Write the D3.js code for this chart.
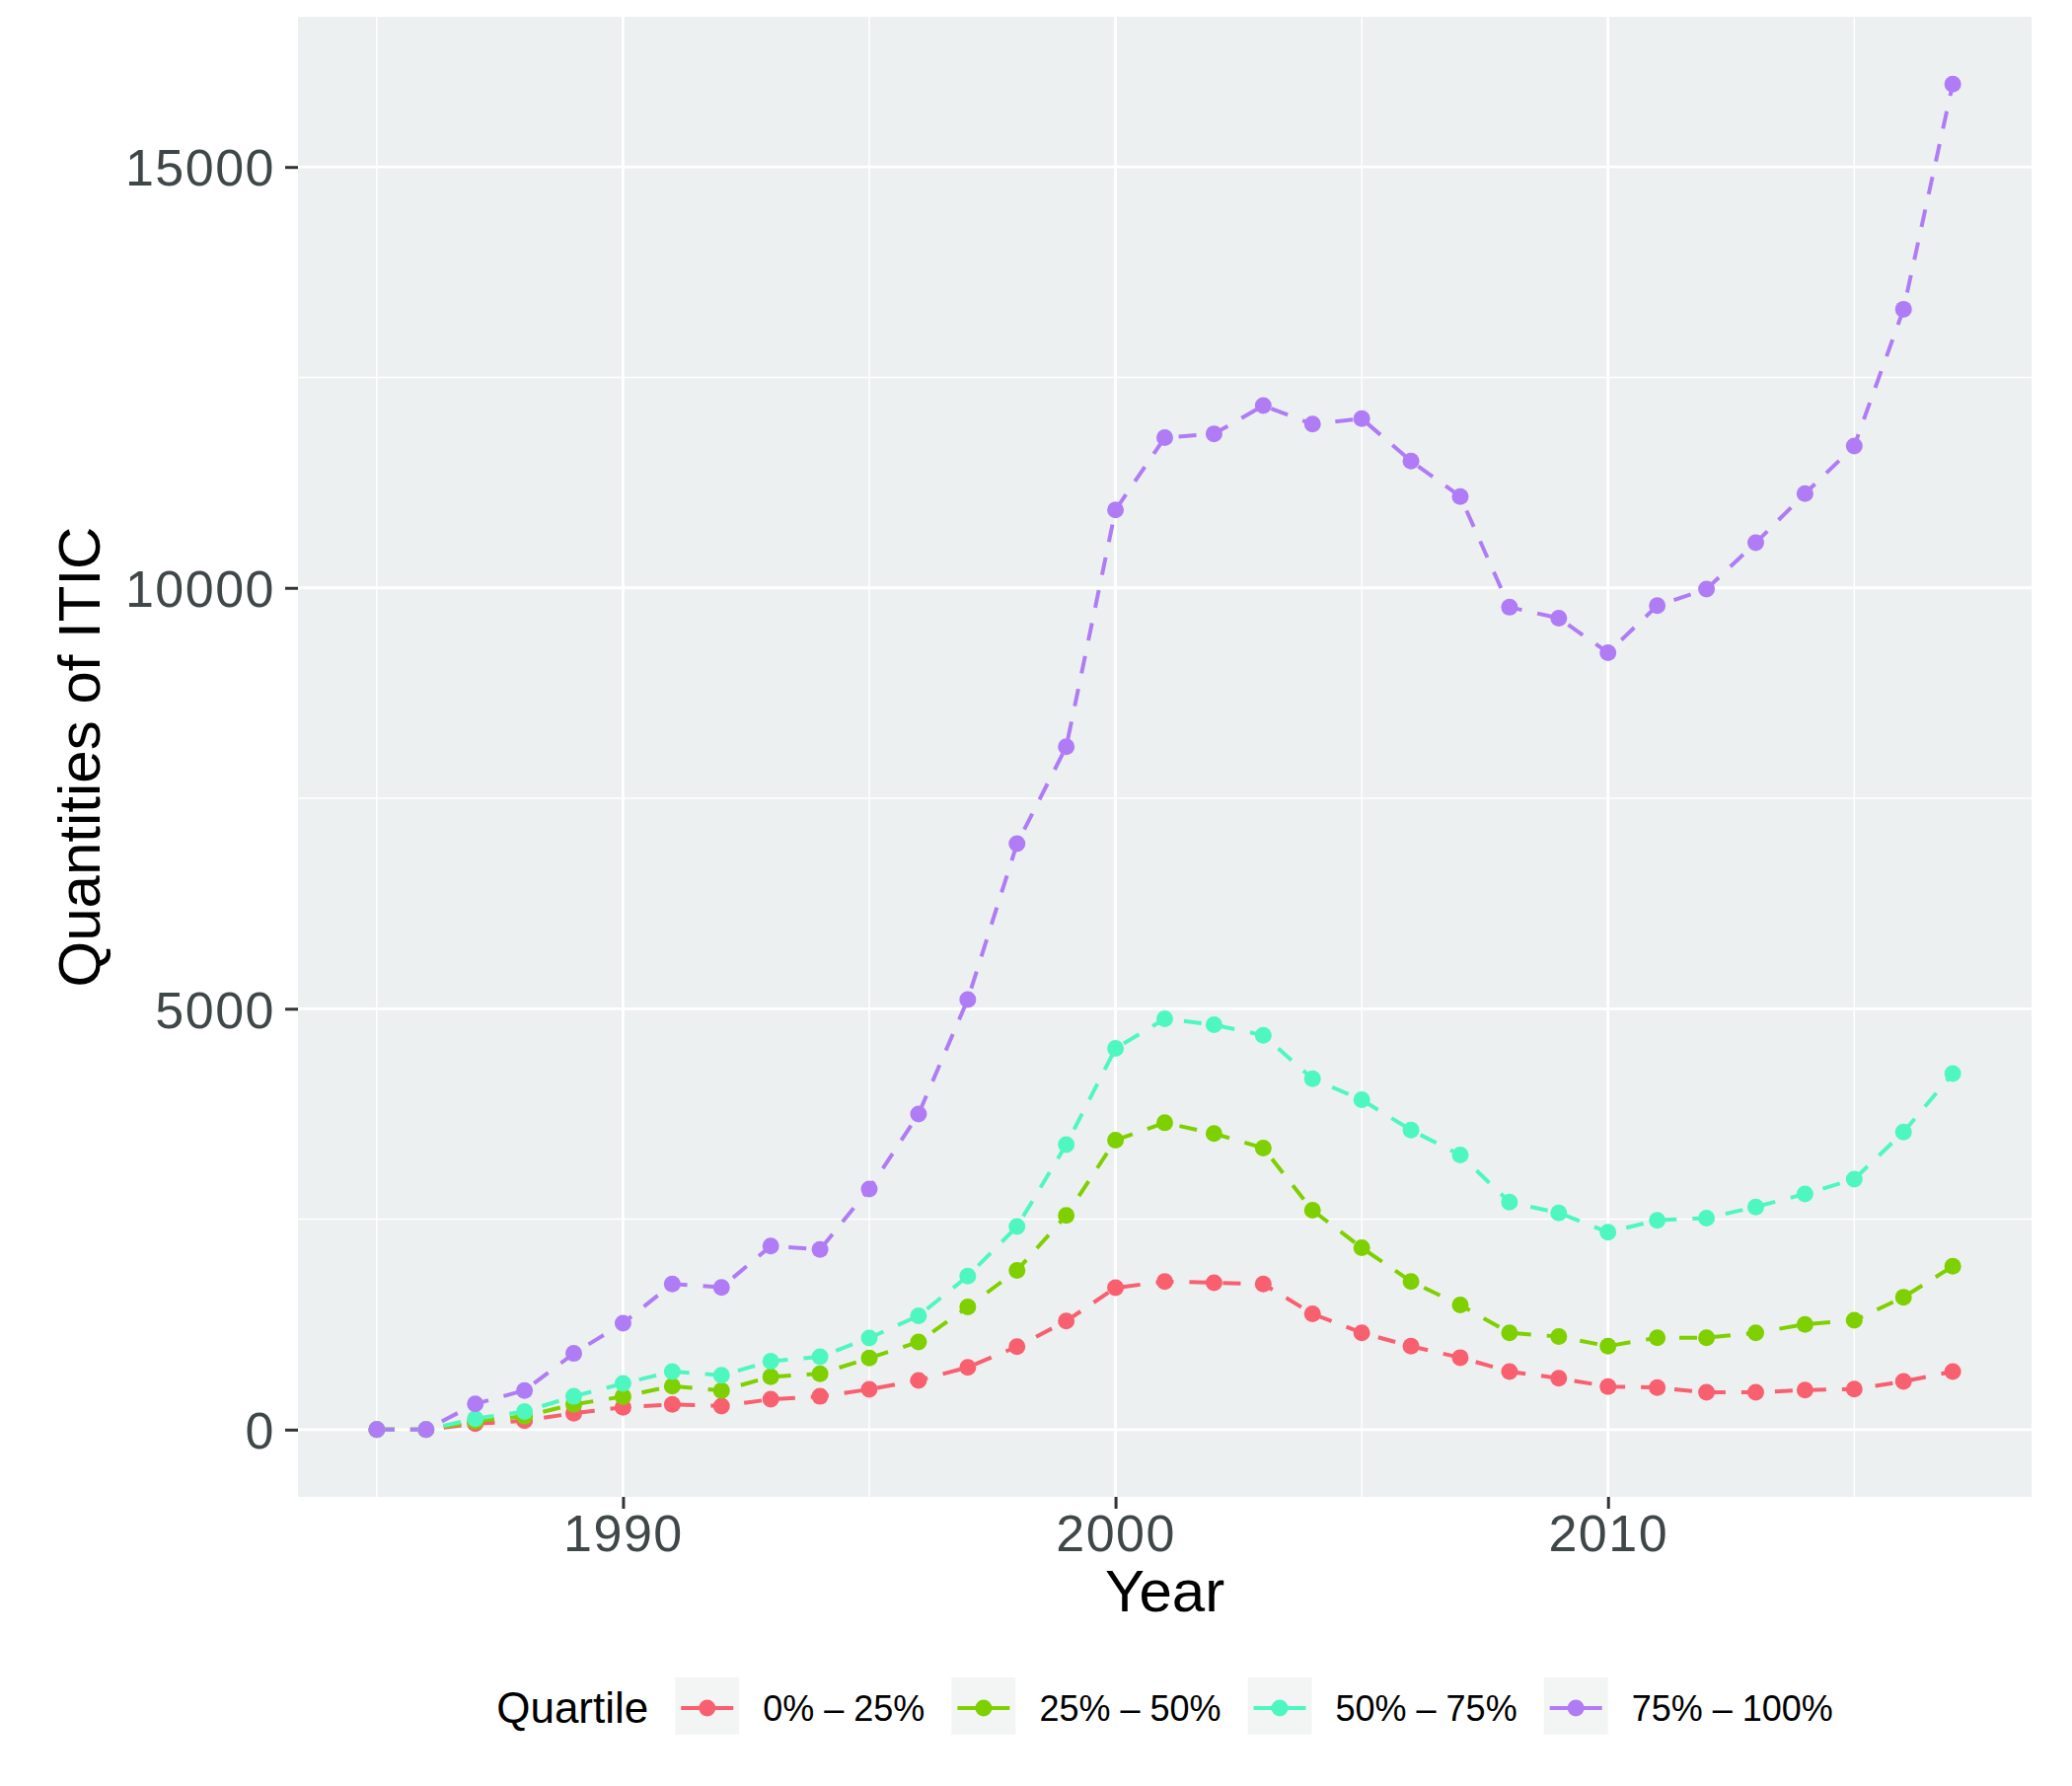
<!DOCTYPE html>
<html>
<head>
<meta charset="utf-8">
<script src="https://cdn.jsdelivr.net/npm/d3@7"></script>
<style>
  body { margin: 0; background: #fff; }
  text { font-family: "Liberation Sans", Arial, Helvetica, sans-serif; }
  .axis text { fill: #3f4749; font-size: 52px; letter-spacing: 1.5px; }
  .axis line { stroke: #333; stroke-width: 3; }
  .axis path { display: none; }
</style>
</head>
<body>
<script>
const years = [1985, 1986, 1987, 1988, 1989, 1990, 1991, 1992, 1993, 1994, 1995, 1996,
  1997, 1998, 1999, 2000, 2001, 2002, 2003, 2004, 2005, 2006, 2007, 2008, 2009, 2010,
  2011, 2012, 2013, 2014, 2015, 2016, 2017];

const q1 = [0, 0, 70, 105, 195, 265, 300, 280, 360, 395, 478, 585, 740, 985, 1290, 1685,
  1760, 1745, 1730, 1375, 1150, 990, 855, 690, 610, 512, 500, 442, 442, 470, 482, 572, 690];
const q2 = [0, 0, 100, 160, 300, 392, 517, 465, 627, 663, 850, 1042, 1457, 1892, 2545, 3438,
  3645, 3517, 3345, 2605, 2160, 1760, 1480, 1150, 1105, 992, 1092, 1092, 1150, 1250, 1298, 1573, 1940];
const q3 = [0, 0, 130, 215, 395, 548, 690, 645, 812, 866, 1088, 1352, 1823, 2412, 3385, 4528,
  4880, 4810, 4685, 4168, 3918, 3558, 3262, 2702, 2575, 2345, 2487, 2513, 2645, 2800, 2975, 3535, 4230];
const q4 = [0, 0, 305, 465, 905, 1265, 1730, 1690, 2180, 2140, 2858, 3748, 5110, 6960, 8112, 10925,
  11785, 11830, 12165, 11945, 12010, 11505, 11085, 9770, 9640, 9230, 9788, 9985, 10535, 11120, 11685, 13310, 15985];

const quartiles = ["0% \u2013 25%", "25% \u2013 50%", "50% \u2013 75%", "75% \u2013 100%"];
const colors = ["#f8606f", "#7fd000", "#4ff7c0", "#b07cf5"];

const yTicks = [0, 5000, 10000, 15000];
const yMinor = [2500, 7500, 12500];
const xTicks = [1990, 2000, 2010];
const xMinor = [1985, 1995, 2005, 2015];

const width = 2100, height = 1810;
const panel = {left: 302, right: 2059, top: 17, bottom: 1517};

const series = [q1, q2, q3, q4].map((vals, i) => ({
  name: quartiles[i],
  color: colors[i],
  values: vals.map((v, j) => ({x: years[j], y: v}))
}));

// ggplot style 5% expansion on both axes
const xExt = d3.extent(years);
const xPad = (xExt[1] - xExt[0]) * 0.05;
const yMax = d3.max([q1, q2, q3, q4], s => d3.max(s));
const yMin = d3.min([q1, q2, q3, q4], s => d3.min(s));
const yPad = (yMax - yMin) * 0.05;

const xScale = d3.scaleLinear()
  .domain([xExt[0] - xPad, xExt[1] + xPad])
  .range([panel.left, panel.right]);

const yScale = d3.scaleLinear()
  .domain([yMin - yPad, yMax + yPad])
  .range([panel.bottom, panel.top]);

const svg = d3.select("body")
  .append("svg")
  .attr("width", width)
  .attr("height", height);

svg.append("rect")
  .attr("x", panel.left)
  .attr("y", panel.top)
  .attr("width", panel.right - panel.left)
  .attr("height", panel.bottom - panel.top)
  .style("fill", "#edf0f0");

const grid = svg.append("g");

grid.selectAll(".yminor")
  .data(yMinor)
  .enter()
  .append("line")
  .attr("x1", panel.left).attr("x2", panel.right)
  .attr("y1", d => yScale(d)).attr("y2", d => yScale(d))
  .style("stroke", "#fff").style("stroke-width", 1.4);

grid.selectAll(".xminor")
  .data(xMinor)
  .enter()
  .append("line")
  .attr("y1", panel.top).attr("y2", panel.bottom)
  .attr("x1", d => xScale(d)).attr("x2", d => xScale(d))
  .style("stroke", "#fff").style("stroke-width", 1.4);

grid.selectAll(".ymajor")
  .data(yTicks)
  .enter()
  .append("line")
  .attr("x1", panel.left).attr("x2", panel.right)
  .attr("y1", d => yScale(d)).attr("y2", d => yScale(d))
  .style("stroke", "#fff").style("stroke-width", 2.8);

grid.selectAll(".xmajor")
  .data(xTicks)
  .enter()
  .append("line")
  .attr("y1", panel.top).attr("y2", panel.bottom)
  .attr("x1", d => xScale(d)).attr("x2", d => xScale(d))
  .style("stroke", "#fff").style("stroke-width", 2.8);

const yAxis = d3.axisLeft(yScale)
  .tickValues(yTicks)
  .tickFormat(d3.format("d"))
  .tickSize(13)
  .tickPadding(10);

const xAxis = d3.axisBottom(xScale)
  .tickValues(xTicks)
  .tickFormat(d3.format("d"))
  .tickSize(12)
  .tickPadding(8);

svg.append("g")
  .attr("class", "axis")
  .attr("transform", "translate(" + panel.left + ",0)")
  .call(yAxis)
  .selectAll("text")
  .attr("dy", "0.36em");

svg.append("g")
  .attr("class", "axis")
  .attr("transform", "translate(0," + panel.bottom + ")")
  .call(xAxis)
  .selectAll("text")
  .attr("dy", "0.68em");

svg.append("text")
  .attr("x", (panel.left + panel.right) / 2)
  .attr("y", 1633)
  .style("text-anchor", "middle")
  .style("font-size", "60px")
  .text("Year");

svg.append("text")
  .attr("transform", "translate(101," + ((panel.top + panel.bottom) / 2) + ") rotate(-90)")
  .style("text-anchor", "middle")
  .style("font-size", "60px")
  .text("Quantities of ITIC");

const line = d3.line()
  .x(d => xScale(d.x))
  .y(d => yScale(d.y));

svg.append("g")
  .selectAll("path")
  .data(series)
  .enter()
  .append("path")
  .attr("d", d => line(d.values))
  .style("fill", "none")
  .style("stroke", d => d.color)
  .style("stroke-width", 4)
  .style("stroke-dasharray", "18,16");

svg.append("g")
  .selectAll("g")
  .data(series)
  .enter()
  .append("g")
  .style("fill", d => d.color)
  .selectAll("circle")
  .data(d => d.values)
  .enter()
  .append("circle")
  .attr("cx", d => xScale(d.x))
  .attr("cy", d => yScale(d.y))
  .attr("r", 8.5);

// legend, laid out left to right then centred under the panel
const legend = svg.append("g");
const keyW = 65, keyH = 58, legendY = 1731;

const title = legend.append("text")
  .attr("x", 0)
  .attr("y", legendY + 15)
  .style("font-size", "44px")
  .text("Quartile");

let cursor = title.node().getComputedTextLength() + 27;

series.forEach((s) => {
  const item = legend.append("g").attr("transform", "translate(" + cursor + ",0)");
  item.append("rect")
    .attr("x", 0)
    .attr("y", legendY - keyH / 2 - 2)
    .attr("width", keyW)
    .attr("height", keyH)
    .style("fill", "#f3f5f5");
  item.append("line")
    .attr("x1", 6).attr("x2", keyW - 6)
    .attr("y1", legendY).attr("y2", legendY)
    .style("stroke", s.color)
    .style("stroke-width", 4);
  item.append("circle")
    .attr("cx", keyW / 2)
    .attr("cy", legendY)
    .attr("r", 8.5)
    .style("fill", s.color);
  const label = item.append("text")
    .attr("x", keyW + 24)
    .attr("y", legendY + 13)
    .style("font-size", "36px")
    .text(s.name);
  cursor += keyW + 24 + label.node().getComputedTextLength() + 27;
});

const legendW = cursor - 27;
legend.attr("transform", "translate(" + ((panel.left + panel.right) / 2 - legendW / 2) + ",0)");
</script>
</body>
</html>
